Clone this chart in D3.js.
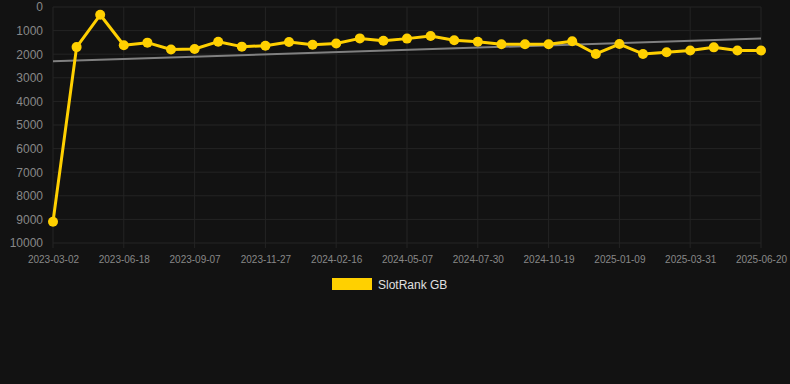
<!DOCTYPE html>
<html><head><meta charset="utf-8">
<script src="https://cdn.jsdelivr.net/npm/d3@7"></script>
<style>
html,body{margin:0;padding:0;background:#121212;}
svg{display:block;}
</style></head>
<body><div id="chart"></div>
<script>
const dates = ["2023-03-02","2023-04-07","2023-05-13","2023-06-18","2023-07-15","2023-08-11","2023-09-07","2023-10-04","2023-10-31","2023-11-27","2023-12-24","2024-01-20","2024-02-16","2024-03-14","2024-04-10","2024-05-07","2024-06-04","2024-07-02","2024-07-30","2024-08-26","2024-09-22","2024-10-19","2024-11-15","2024-12-12","2025-01-09","2025-02-05","2025-03-04","2025-03-31","2025-04-27","2025-05-24","2025-06-20"];
const rankGB = [9100,1700,330,1620,1510,1800,1780,1470,1680,1640,1480,1600,1550,1330,1430,1340,1230,1410,1470,1580,1580,1580,1455,1990,1570,1990,1920,1840,1710,1840,1840];
const yTicks = [0,1000,2000,3000,4000,5000,6000,7000,8000,9000,10000];
const seriesName = "SlotRank GB";

(function(){
const W = 790, H = 384;
const mL = 53, mR = 761, mT = 7, mB = 243;
const svg = d3.select("#chart").append("svg").attr("width", W).attr("height", H);
svg.append("rect").attr("width", W).attr("height", H).attr("fill", "#121212");

const x = d3.scalePoint().domain(dates).range([mL, mR]);
const y = d3.scaleLinear().domain([0, 10000]).range([mT, mB]);

// grid
const tickDates = dates.filter((d, i) => i % 3 === 0);
svg.append("g").selectAll("line").data(yTicks).join("line")
  .attr("x1", mL).attr("x2", mR)
  .attr("y1", d => y(d)).attr("y2", d => y(d))
  .attr("stroke", "#242424").attr("stroke-width", 1);
svg.append("g").selectAll("line").data(tickDates).join("line")
  .attr("x1", d => x(d)).attr("x2", d => x(d))
  .attr("y1", mT).attr("y2", mB + 5)
  .attr("stroke", "#242424").attr("stroke-width", 1);

// y axis labels
const yAxis = d3.axisLeft(y).tickValues(yTicks).tickSize(0).tickPadding(10).tickFormat(d3.format("d"));
const ga = svg.append("g").attr("transform", `translate(${mL},0)`).call(yAxis);
ga.select(".domain").remove();
ga.selectAll("text").attr("fill", "#888888").style("font-family", "Arial, 'Liberation Sans', sans-serif").style("font-size", "12px");

// x axis labels
const xAxis = d3.axisBottom(x).tickValues(tickDates).tickSize(0).tickPadding(13);
const gx = svg.append("g").attr("transform", `translate(0,${mB})`).call(xAxis);
gx.select(".domain").remove();
gx.selectAll("text").attr("fill", "#888888").style("font-family", "Arial, 'Liberation Sans', sans-serif").style("font-size", "10px");

// trend line (least squares)
const n = rankGB.length;
const idx = d3.range(n);
const mx = d3.mean(idx), my = d3.mean(rankGB);
const sxy = d3.sum(idx, i => (i - mx) * (rankGB[i] - my));
const sxx = d3.sum(idx, i => (i - mx) ** 2);
const slope = sxy / sxx, icpt = my - slope * mx;
svg.append("line")
  .attr("x1", x(dates[0])).attr("y1", y(icpt))
  .attr("x2", x(dates[n - 1])).attr("y2", y(icpt + slope * (n - 1)))
  .attr("stroke", "#808080").attr("stroke-width", 2);

// series
const col = "#FFD000";
svg.append("path").datum(rankGB)
  .attr("fill", "none").attr("stroke", col).attr("stroke-width", 3).attr("stroke-linejoin", "round")
  .attr("d", d3.line().x((d, i) => x(dates[i])).y(d => y(d)));
svg.append("g").selectAll("circle").data(rankGB).join("circle")
  .attr("cx", (d, i) => x(dates[i])).attr("cy", d => y(d)).attr("r", 5)
  .attr("fill", col);

// legend
const lg = svg.append("g");
lg.append("rect").attr("x", 332).attr("y", 278).attr("width", 40).attr("height", 12).attr("fill", col);
lg.append("text").attr("x", 378).attr("y", 289).text(seriesName)
  .attr("fill", "#e0e0e0").style("font-family", "Arial, 'Liberation Sans', sans-serif").style("font-size", "12px");
})();
</script>
</body></html>
